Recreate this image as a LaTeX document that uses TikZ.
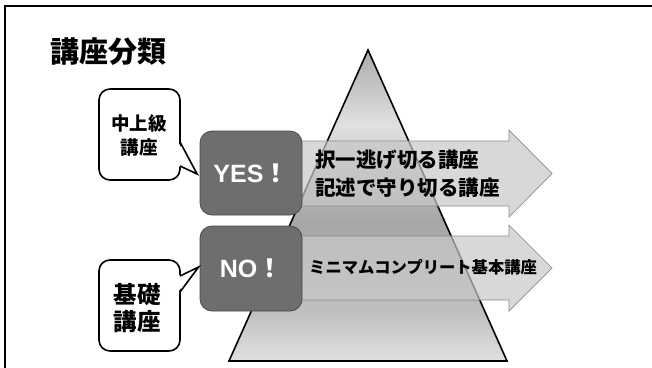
\documentclass[tikz,border=0pt]{standalone}
\usepackage{fontspec}
\newfontfamily\jp{Noto Sans CJK JP}
\newfontfamily\lat{Liberation Sans}
\definecolor{boxfill}{HTML}{6E6E6E}
\definecolor{boxline}{HTML}{4A4A4A}
\definecolor{arrfill}{HTML}{C8C8C8}
\definecolor{arrline}{HTML}{8C8C8C}
\pgfdeclareverticalshading{pyr}{100bp}{color(0bp)=(black!12); color(25bp)=(black!12); color(33bp)=(black!25); color(47.5bp)=(black!35); color(63bp)=(black!12); color(75bp)=(black!33); color(100bp)=(black!33)}
\begin{document}
\begin{tikzpicture}[x=1pt,y=-1pt,
  boxst/.style={draw=boxline, line width=0.8pt, fill=boxfill, rounded corners=12pt, minimum width=102pt, minimum height=84pt, inner sep=0pt, text=white, font=\lat\bfseries\fontsize{25}{25}\selectfont},
  arrowst/.style={draw=arrline, line width=0.7pt, fill=arrfill, fill opacity=0.7},
  calloutst/.style={draw=black, line width=1.6pt, fill=white, rounded corners=11pt},
  ptrline/.style={draw=black, line width=1.6pt, line join=miter},
  ctext/.style={font=\jp\bfseries, align=center, inner sep=0pt},
]
\useasboundingbox (0,0) rectangle (652,367);
\draw[line width=2pt] (5,370) -- (5,6) -- (660,6);
\node[ctext, anchor=west, font=\jp\bfseries\fontsize{29}{29}\selectfont] (title) at (50,52) {講座分類};
% pyramid
\shadedraw[shading=pyr, draw=black, line width=1.6pt] (368,50) -- (507,361) -- (229,361) -- cycle;
% arrows
\path[arrowst] (290,141) -- (509,141) -- (509,130) -- (552,173.5) -- (509,217) -- (509,206) -- (290,206) -- cycle;
\path[arrowst] (290,236) -- (509,236) -- (509,225) -- (552,268) -- (509,311) -- (509,300) -- (290,300) -- cycle;
% boxes
\node[boxst] (yes) at (251,173) {YES{\jp ！}};
\node[boxst, minimum height=85pt] (no) at (251,268.5) {NO{\jp ！}};
% arrow texts
\node[ctext, align=left, anchor=west, font=\jp\bfseries\fontsize{20.5}{28}\selectfont] (adv) at (315,174) {択一逃げ切る講座\\記述で守り切る講座};
\node[ctext, anchor=west, font=\jp\bfseries\fontsize{16.3}{16.3}\selectfont] (min) at (309,267.5) {ミニマムコンプリート基本講座};
% callouts
\coordinate (yestip) at ([xshift=-2.5pt,yshift=-1pt]yes.west);
\coordinate (notip) at ([xshift=-1pt,yshift=1.5pt]no.west);
\draw[calloutst] (99,89) rectangle (180,180);
\fill[white] (178,142) -- (yestip) -- (178,166) -- cycle;
\draw[ptrline] (180,142) -- (yestip) -- (180,166);
\draw[calloutst] (99,260) rectangle (180,351);
\fill[white] (178,276) -- (notip) -- (178,292) -- cycle;
\draw[ptrline] (180,276) -- (notip) -- (180,292);
\node[ctext, font=\jp\bfseries\fontsize{18.5}{24}\selectfont] (upper) at (139,135) {中上級\\講座};
\node[ctext, font=\jp\bfseries\fontsize{23.5}{27}\selectfont] (basic) at (137,308.5) {基礎\\講座};
\end{tikzpicture}
\end{document}
